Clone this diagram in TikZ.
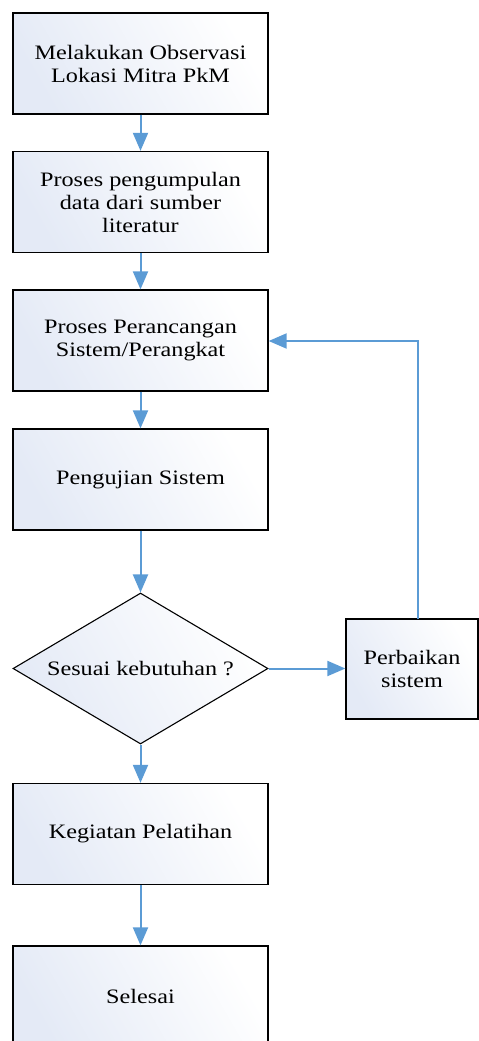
\documentclass[tikz,border=0pt]{standalone}
\usepackage{fontspec}
\setmainfont[FakeStretch=1.18]{Liberation Serif}
\usetikzlibrary{shapes.geometric,arrows.meta}
\definecolor{flowblue}{HTML}{5B9BD5}
\definecolor{boxtint}{HTML}{E4EAF6}
\definecolor{boxmid}{HTML}{F6F8FC}
\tikzset{
  procbox/.style={draw=black, line width=1.3pt, left color=boxtint, middle color=boxmid, right color=white,
    shading angle=120, minimum width=255pt, minimum height=101pt, inner sep=2pt,
    align=center, font=\fontsize{20.5}{23}\selectfont},
  decision/.style={diamond, draw=black, line width=1.1pt, left color=boxtint, middle color=boxmid, right color=white,
    shading angle=120, minimum width=255pt, minimum height=151pt, aspect=1.69, inner sep=0pt,
    align=center, font=\fontsize{20.5}{23}\selectfont},
  flow/.style={draw=flowblue, line width=2pt, -{Triangle[length=18pt,width=15pt]}}
}
\begin{document}
\begin{tikzpicture}[x=1pt,y=-1pt]
		\useasboundingbox (0,0) rectangle (479,1041);
		\clip (0,0) rectangle (479,1041);
		
		% Main column
		\node[procbox] (obs) at (140.5, 63.5) {Melakukan Observasi\\Lokasi Mitra PkM};
		\node[procbox] (data) at (140.5, 202) {Proses pengumpulan\\data dari sumber\\literatur};
		\node[procbox] (design) at (140.5, 340.5) {Proses Perancangan\\Sistem/Perangkat};
		\node[procbox] (test) at (140.5, 479.5) {Pengujian Sistem};
		\node[decision] (check) at (140.5, 668.5) {Sesuai kebutuhan ?};
		\node[procbox] (train) at (140.5, 834) {Kegiatan Pelatihan};
		\node[procbox] (done) at (140.5, 996.5) {Selesai};
		
		% Side branch
		\node[procbox, minimum width=132pt, minimum height=100pt] (fix) at (412, 669) {Perbaikan\\sistem};
		\coordinate (fixtop) at (418, 619);
		\coordinate (bend) at (418, 341);
		
		% Connectors
		\draw[flow] (obs) -- (data);
		\draw[flow] (data) -- (design);
		\draw[flow] (design) -- (test);
		\draw[flow] (test) -- (check);
		\draw[flow] (check) -- (train);
		\draw[flow] (train) -- (done);
		\draw[flow] (check.east) -- (check.east -| fix.west);
		\draw[flow] (fixtop) -- (bend) -- (design.east |- bend);
	\end{tikzpicture}
\end{document}
